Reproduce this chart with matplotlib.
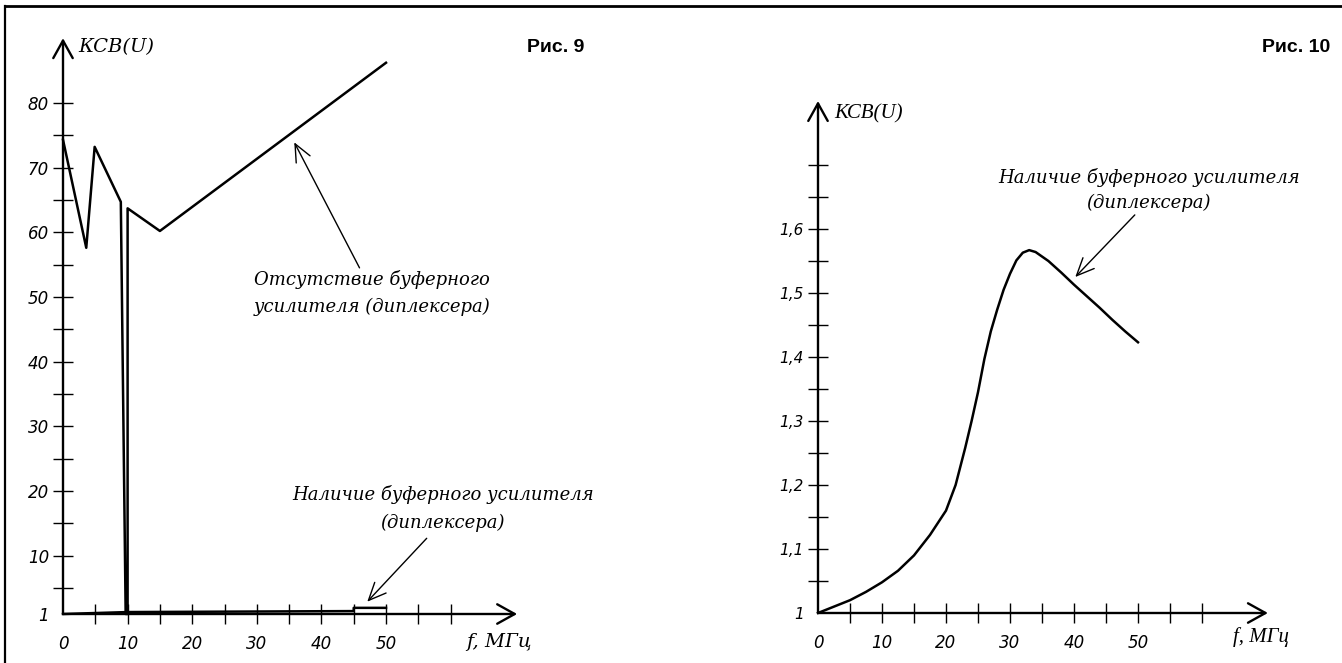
import matplotlib
matplotlib.use("Agg")
import matplotlib.pyplot as plt
from matplotlib.lines import Line2D

# ---- data ----
# Рис. 9, no buffer amplifier (diplexer)
f_nobuf = [0, 3.6, 4.9, 8.95, 9.7, 10, 10, 15, 50]
k_nobuf = [74.3, 57.6, 73.2, 64.7, 1.0, 1.0, 63.7, 60.2, 86.2]
# Рис. 9, with buffer amplifier (seen at the scale of 1..80)
f_buf9 = [0, 10, 45, 45, 50]
k_buf9 = [1.0, 1.3, 1.45, 1.95, 1.95]
# Рис. 10, with buffer amplifier
f_buf = [0, 2.5, 5, 7.5, 10, 12.5, 15, 17.5, 20, 21.5, 23, 24, 25, 26, 27,
         28, 29, 30, 31, 32, 33, 34, 35, 36, 38, 40, 42, 44, 46, 48, 50]
k_buf = [1.0, 1.01, 1.02, 1.033, 1.048, 1.066, 1.09, 1.122, 1.16, 1.2, 1.258,
         1.3, 1.345, 1.397, 1.44, 1.474, 1.505, 1.53, 1.551, 1.563, 1.567,
         1.564, 1.557, 1.55, 1.532, 1.513, 1.495, 1.477, 1.458, 1.44, 1.423]

x_ticks = [0, 5, 10, 15, 20, 25, 30, 35, 40, 45, 50, 55, 60]
x_labels = ['0', '', '10', '', '20', '', '30', '', '40', '', '50', '', '']
y9_ticks = [1, 5, 10, 15, 20, 25, 30, 35, 40, 45, 50, 55, 60, 65, 70, 75, 80]
y9_labels = ['1', '', '10', '', '20', '', '30', '', '40', '', '50', '', '60', '', '70', '', '80']
y10_ticks = [1.0, 1.05, 1.1, 1.15, 1.2, 1.25, 1.3, 1.35, 1.4, 1.45, 1.5, 1.55, 1.6, 1.65, 1.7]
y10_labels = ['1', '', '1,1', '', '1,2', '', '1,3', '', '1,4', '', '1,5', '', '1,6', '', '']

ylabel = 'КСВ(U)'
xlabel = 'f, МГц'
note_nobuf = ['Отсутствие буферного', 'усилителя (диплексера)']
note_buf = ['Наличие буферного усилителя', '(диплексера)']

W, H = 1342, 663
fig = plt.figure(figsize=(W / 100, H / 100), dpi=100)

tick_font = dict(family='DejaVu Sans', style='italic', size=12)
note_font = dict(family='DejaVu Serif', style='italic', size=13)


def panel(x0, y0, sx, sy, x_right, y_top, ybase):
    # axes placed so that data units map onto the picture's pixels
    ax = fig.add_axes([x0 / W, (H - y0) / H, (x_right - x0) / W, (y0 - y_top) / H])
    ax.set_xlim(0, (x_right - x0) / sx)
    ax.set_ylim(ybase, ybase + (y0 - y_top) / sy)
    for s in ax.spines.values():
        s.set_visible(False)
    ax.patch.set_alpha(0)
    return ax


def axes_arrows(ax, xtip, ytip, ybase):
    ap = dict(arrowstyle='->,head_length=0.9,head_width=0.5', lw=1.7, color='black',
              shrinkA=0, shrinkB=0, mutation_scale=14)
    ax.annotate('', xy=(xtip, ybase), xytext=(0, ybase), arrowprops=ap, annotation_clip=False)
    ax.annotate('', xy=(0, ytip), xytext=(0, ybase), arrowprops=ap, annotation_clip=False)


def set_ticks(ax, xt, xl, yt, yl, ysize):
    ax.set_xticks(xt)
    ax.set_xticklabels(xl, fontdict=tick_font)
    ax.set_yticks(yt)
    ax.set_yticklabels(yl, fontdict=dict(tick_font, size=ysize))
    ax.tick_params(direction='inout', length=14, width=1.0, color='black')
    ax.tick_params(axis='y', pad=3)
    ax.tick_params(axis='x', pad=8)
    ax.xaxis.get_major_ticks()[0].tick1line.set_visible(False)
    ax.yaxis.get_major_ticks()[0].tick1line.set_visible(False)


def note(ax, xc, ys, lines, tail, head):
    for y, s in zip(ys, lines):
        ax.text(xc, y, s, ha='center', va='center', fontdict=note_font, clip_on=False)
    ax.annotate('', xy=head, xytext=tail, annotation_clip=False,
                arrowprops=dict(arrowstyle='->,head_length=0.9,head_width=0.4', lw=1.0,
                                color='black', shrinkA=0, shrinkB=0, mutation_scale=14))


# ---- Рис. 9 ----
ax1 = panel(63, 614, 6.46, 6.47, 560, 20, 1)
axes_arrows(ax1, 70.3, 90.0, 1)
set_ticks(ax1, x_ticks, x_labels, y9_ticks, y9_labels, 12)
ax1.plot(f_nobuf, k_nobuf, color='black', lw=1.8, clip_on=False)
ax1.plot(f_buf9, k_buf9, color='black', lw=1.8, clip_on=False)
ax1.text(2.3, 88.6, ylabel, fontdict=dict(note_font, size=14), va='center', ha='left')
ax1.text(62.4, -3.3, xlabel, fontdict=dict(note_font, size=14), va='center', ha='left', clip_on=False)
note(ax1, 47.9, [52.7, 48.4], note_nobuf, (45.9, 54.5), (35.8, 73.9))
note(ax1, 58.8, [19.5, 15.1], note_buf, (56.3, 12.7), (47.1, 2.9))

# ---- Рис. 10 ----
ax2 = panel(818, 613, 6.4, 640, 1330, 60, 1.0)
axes_arrows(ax2, 70.3, 1.80, 1.0)
set_ticks(ax2, x_ticks, x_labels, y10_ticks, y10_labels, 11)
ax2.plot(f_buf, k_buf, color='black', lw=1.8, clip_on=False)
ax2.text(2.5, 1.78, ylabel, fontdict=dict(family='Liberation Serif', style='italic', size=15),
         va='center', ha='left')
ax2.text(64.8, 0.9625, xlabel, fontdict=dict(family='Liberation Serif', style='italic', size=15),
         va='center', ha='left', clip_on=False)
note(ax2, 51.7, [1.681, 1.641], note_buf, (49.5, 1.622), (40.2, 1.525))

# figure captions
fig.text(527 / W, 1 - 47 / H, 'Рис. 9', family='Liberation Sans', weight='bold', size=14,
         ha='left', va='center')
fig.text(1330 / W, 1 - 47 / H, 'Рис. 10', family='Liberation Sans', weight='bold', size=14,
         ha='right', va='center')

# frame lines at top and left
fig.add_artist(Line2D([5 / W, 1], [1 - 6 / H, 1 - 6 / H], transform=fig.transFigure, lw=2, color='black'))
fig.add_artist(Line2D([5 / W, 5 / W], [0, 1 - 6 / H], transform=fig.transFigure, lw=1.6, color='black'))

fig.savefig('out.png', dpi=100, facecolor='white')
